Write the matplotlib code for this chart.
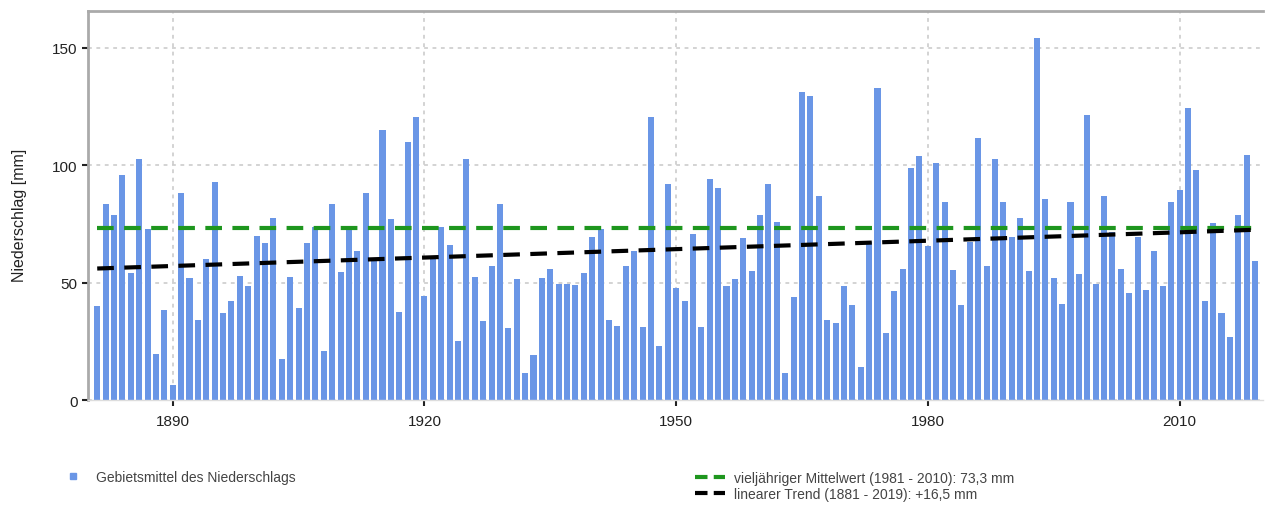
import numpy as np
import matplotlib
matplotlib.use('Agg')
import matplotlib.pyplot as plt
from matplotlib.lines import Line2D

plt.rcParams['font.family'] = ['Liberation Sans', 'DejaVu Sans']

# Jahre und Gebietsmittel des Niederschlags [mm]
jahre = np.arange(1881, 2020)
niederschlag = [
    40, 83.5, 79, 96, 54, 102.5, 73, 19.5, 38.5, 6.5,          # 1881-1890
    88, 52, 34, 60, 93, 37, 42, 53, 48.5, 70,                  # 1891-1900
    67, 77.5, 17.5, 52.5, 39, 67, 73.5, 21, 83.5, 54.5,        # 1901-1910
    73.5, 63.5, 88, 59.5, 115, 77, 37.5, 110, 120.5, 44.5,     # 1911-1920
    60.5, 73.5, 66, 25, 102.5, 52.5, 33.5, 57, 83.5, 30.5,     # 1921-1930
    51.5, 11.5, 19, 52, 56, 49.5, 49.5, 49, 54, 69.5,          # 1931-1940
    73, 34, 31.5, 57, 63.5, 31, 120.5, 23, 92, 47.5,           # 1941-1950
    42, 70.5, 31, 94, 90.5, 48.5, 51.5, 69, 55, 79,            # 1951-1960
    92, 76, 11.5, 44, 131, 129.5, 87, 34, 33, 48.5,            # 1961-1970
    40.5, 14, 67.5, 133, 28.5, 46.5, 56, 99, 104, 65.5,        # 1971-1980
    101, 84.5, 55.5, 40.5, 67.5, 111.5, 57, 102.5, 84.5, 69.5, # 1981-1990
    77.5, 55, 154, 85.5, 52, 41, 84.5, 53.5, 121.5, 49.5,      # 1991-2000
    87, 71.5, 56, 45.5, 69.5, 47, 63.5, 48.5, 84.5, 89.5,      # 2001-2010
    124.5, 98, 42, 75.5, 37, 27, 79, 104.5, 59,                # 2011-2019
]
mittelwert = 73.3
trend_start, trend_ende = 56.0, 72.5

fig = plt.figure(figsize=(12.66, 5.06), dpi=100)
ax = fig.add_axes([0.0695, 0.2075, 0.9285, 0.768])

ax.bar(jahre, niederschlag, width=0.72, color='#6a96e6', zorder=2)
ax.plot([1881, 2019], [mittelwert, mittelwert], color='#1e961e', lw=3,
        dashes=(4, 2.5), zorder=3)
ax.plot([1881, 2019], [trend_start, trend_ende], color='black', lw=3,
        dashes=(4, 2.5), zorder=4)

ax.set_xlim(1879.9, 2020.0)
ax.set_ylim(0, 165.5)
ax.set_xticks([1890, 1920, 1950, 1980, 2010])
ax.set_yticks([0, 50, 100, 150])
ax.grid(True, color='#c8c8c8', linestyle=(0, (2.5, 3)), lw=1.1, zorder=0)
ax.tick_params(axis='both', labelsize=11, colors='#222222', length=4, width=1.5)
ax.tick_params(axis='x', pad=6)
ax.set_ylabel('Niederschlag [mm]', fontsize=11.5, color='#222222')
ax.yaxis.set_label_coords(-0.052, 0.478)

for s in ax.spines.values():
    s.set_color('#aaaaaa')
    s.set_linewidth(2)
ax.spines['bottom'].set_color('#dddddd')
ax.spines['bottom'].set_linewidth(1)
ax.spines['right'].set_visible(False)

# Legende
h1 = [Line2D([], [], marker='s', ls='none', color='#6a96e6', markersize=5)]
leg1 = fig.legend(h1, ['Gebietsmittel des Niederschlags'], loc='center left',
                  bbox_to_anchor=(0.0395, 0.055), frameon=False, fontsize=10,
                  handlelength=1.5, handletextpad=0.9)
for t in leg1.get_texts():
    t.set_color('#444444')

h2 = [Line2D([], [], color='#1e961e', lw=3, dashes=(3, 1.5)),
      Line2D([], [], color='black', lw=3, dashes=(3, 1.5))]
leg2 = fig.legend(h2, ['vieljähriger Mittelwert (1981 - 2010): 73,3 mm',
                       'linearer Trend (1881 - 2019): +16,5 mm'],
                  loc='center left', bbox_to_anchor=(0.539, 0.038), frameon=False,
                  fontsize=10, handlelength=2.2, handletextpad=0.6,
                  labelspacing=0.15)
for t in leg2.get_texts():
    t.set_color('#444444')

fig.savefig('out.png', dpi=100)
